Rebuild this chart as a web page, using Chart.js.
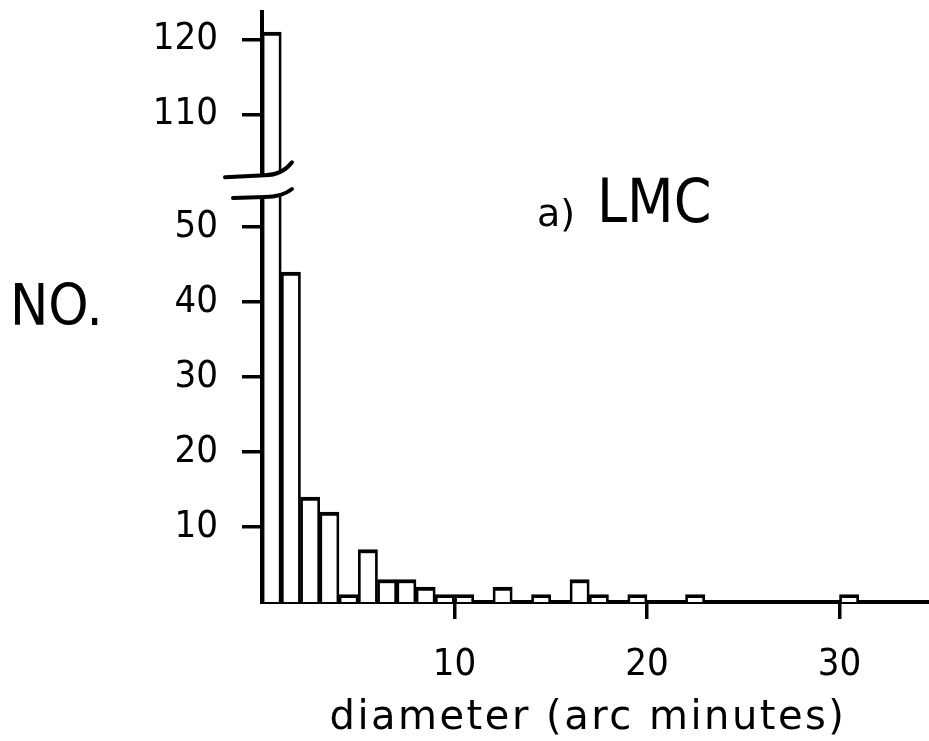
<!DOCTYPE html>
<html>
<head>
<meta charset="utf-8">
<script src="https://cdn.jsdelivr.net/npm/chart.js@4.4.0/dist/chart.umd.min.js"></script>
<style>
html, body { margin: 0; padding: 0; background: #fff; }
canvas { display: block; }
</style>
</head>
<body>
<canvas id="lmcChart" width="929" height="741"></canvas>
<script>
// left edge of each 1 arc minute bin
var binEdges = [0, 1, 2, 3, 4, 5, 6, 7, 8, 9, 10, 11, 12, 13, 14, 15, 16, 17,
                18, 19, 20, 21, 22, 23, 24, 25, 26, 27, 28, 29, 30, 31, 32, 33, 34];
// number of objects in each bin
var counts = [121, 44, 14, 12, 1, 7, 3, 3, 2, 1, 1, 0, 2, 0, 1, 0, 3, 1,
              0, 1, 0, 0, 1, 0, 0, 0, 0, 0, 0, 0, 1, 0, 0, 0, 0];
var yTickValues = [10, 20, 30, 40, 50, 110, 120];
var xTickValues = [10, 20, 30];

// broken y axis: everything from 100 up is pulled down by 45
var breakShift = 45;
function toAxis(v) { return v >= 100 ? v - breakShift : v; }
function fromAxis(v) { return v >= 55 ? v + breakShift : v; }

var black = '#000';
var narrow = '"DejaVu Sans Condensed", "DejaVu Sans"';
var tickFont = { family: narrow, size: 38 };

var axisBreak = {
    id: 'axisBreak',
    afterDatasetsDraw: function (chart) {
        var ctx = chart.ctx;
        var y = chart.scales.y;
        var x0 = chart.chartArea.left;
        var yHi = y.getPixelForValue(56.9);
        var yLo = y.getPixelForValue(54.0);
        ctx.save();
        ctx.fillStyle = '#fff';
        ctx.beginPath();
        ctx.moveTo(x0 - 37, yHi + 2);
        ctx.lineTo(x0 + 3, yHi);
        ctx.quadraticCurveTo(x0 + 20, yHi, x0 + 30, yHi - 13);
        ctx.lineTo(x0 + 30, yLo - 8);
        ctx.quadraticCurveTo(x0 + 20, yLo, x0 + 3, yLo);
        ctx.lineTo(x0 - 29, yLo + 1);
        ctx.closePath();
        ctx.fill();
        ctx.strokeStyle = black;
        ctx.lineWidth = 4;
        ctx.lineCap = 'round';
        ctx.beginPath();
        ctx.moveTo(x0 - 37, yHi + 2);
        ctx.lineTo(x0 + 3, yHi);
        ctx.quadraticCurveTo(x0 + 20, yHi, x0 + 30, yHi - 13);
        ctx.stroke();
        ctx.beginPath();
        ctx.moveTo(x0 - 29, yLo + 1);
        ctx.lineTo(x0 + 3, yLo);
        ctx.quadraticCurveTo(x0 + 20, yLo, x0 + 30, yLo - 8);
        ctx.stroke();
        ctx.restore();
    }
};

var labelsPlugin = {
    id: 'labelsPlugin',
    afterDraw: function (chart) {
        var ctx = chart.ctx;
        ctx.save();
        ctx.fillStyle = black;
        ctx.textBaseline = 'alphabetic';
        ctx.textAlign = 'left';
        ctx.font = '57px ' + narrow;
        ctx.fillText('NO.', 10, 325);
        ctx.font = '38px "DejaVu Sans"';
        ctx.fillText('a)', 537, 226);
        ctx.font = '60px ' + narrow;
        ctx.fillText('LMC', 597, 222);
        // axis title, spaced out like the original lettering
        ctx.font = '40px "DejaVu Sans"';
        ctx.letterSpacing = '2.5px';
        ctx.textAlign = 'center';
        ctx.fillText('diameter (arc minutes)', 588, 729);
        ctx.restore();
    }
};

var points = counts.map(function (c, i) {
    return { x: binEdges[i] + 0.5, y: toAxis(c) };
});

new Chart(document.getElementById('lmcChart'), {
    type: 'bar',
    data: {
        datasets: [{
            label: 'LMC',
            data: points,
            backgroundColor: '#fff',
            borderColor: black,
            borderWidth: { top: 4, left: 2.75, right: 2.75, bottom: 0 },
            barPercentage: 1,
            categoryPercentage: 1
        }]
    },
    options: {
        responsive: false,
        animation: false,
        layout: { padding: { top: 12, right: 0, bottom: 0, left: 0 } },
        plugins: {
            legend: { display: false },
            tooltip: { enabled: false }
        },
        scales: {
            x: {
                type: 'linear',
                min: 0,
                max: 34.65,
                offset: false,
                afterBuildTicks: function (s) {
                    s.ticks = xTickValues.map(function (v) { return { value: v }; });
                },
                afterFit: function (s) {
                    s.height = 139;
                    s.paddingLeft = 0;
                    s.paddingRight = 0;
                },
                ticks: { font: tickFont, color: black, padding: 23, maxRotation: 0, autoSkip: false },
                grid: { drawOnChartArea: false, drawTicks: true, tickLength: 17, lineWidth: 3.5, color: black, offset: false },
                border: { display: true, color: black, width: 4 },
                title: { display: false }
            },
            y: {
                type: 'linear',
                min: 0,
                max: 78.67,
                afterBuildTicks: function (s) {
                    s.ticks = yTickValues.map(function (v) { return { value: toAxis(v) }; });
                },
                afterFit: function (s) {
                    s.width = 262;
                    s.paddingTop = 0;
                    s.paddingBottom = 0;
                },
                ticks: {
                    font: tickFont,
                    color: black,
                    padding: 24,
                    callback: function (v) { return fromAxis(v); }
                },
                grid: { drawOnChartArea: false, drawTicks: true, tickLength: 20, lineWidth: 3.5, color: black },
                border: { display: true, color: black, width: 4 }
            }
        }
    },
    plugins: [axisBreak, labelsPlugin]
});
</script>
</body>
</html>
